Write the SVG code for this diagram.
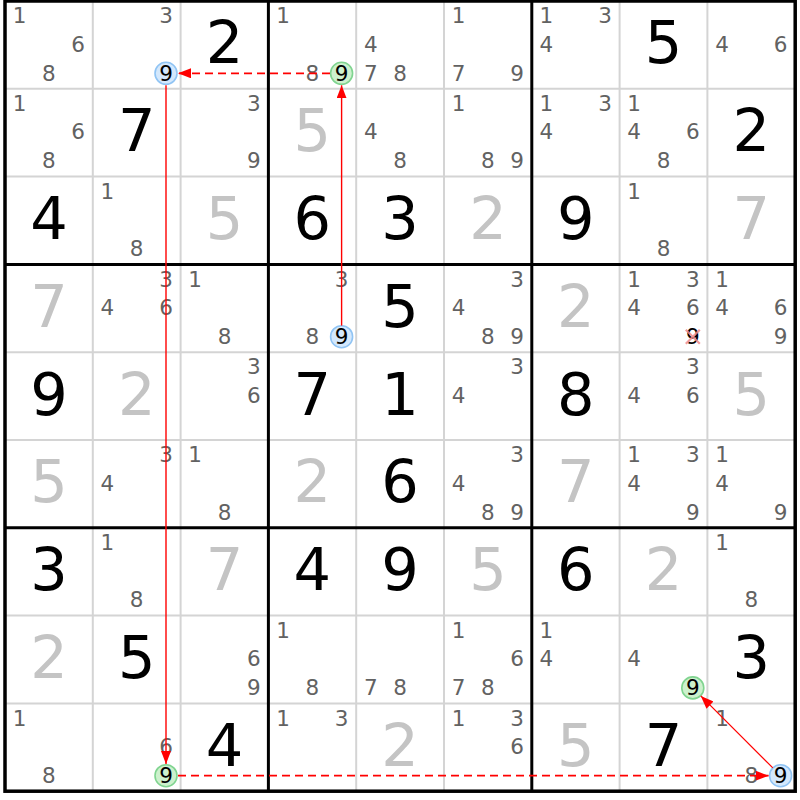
<svg xmlns="http://www.w3.org/2000/svg" width="800" height="800" viewBox="0 0 800 800">
<style>
text{font-family:"DejaVu Sans","Liberation Sans",sans-serif;text-anchor:middle}
.c{font-size:21.5px;fill:#626262}
.k{font-size:21.5px;fill:#000}
.g{font-size:59px;fill:#000}
.s{font-size:59px;fill:#c4c4c4}
.thin{stroke:#d4d4d4;stroke-width:2}
.thick{stroke:#000;stroke-width:3}
.hb{fill:#d4e8fc;stroke:#90c4f4;stroke-width:1.6}
.hg{fill:#cdf1cd;stroke:#80d490;stroke-width:1.6}
.x{stroke:#f08a8a;stroke-width:2.2;opacity:0.85}
.lk{stroke:#ff0000;fill:none}
.dash{stroke-width:1.8;stroke-dasharray:8 5}
</style>
<defs>
<marker id="ah" viewBox="0 0 13 10" refX="13" refY="5" markerWidth="13" markerHeight="10" markerUnits="userSpaceOnUse" orient="auto">
<path d="M0,0 L13,5 L0,10 z" fill="#ff0000"/>
</marker>
</defs>
<rect x="0" y="0" width="800" height="800" fill="#fff"/>
<g id="grid">
<g class="thin">
<line x1="92.8" y1="1" x2="92.8" y2="791.2"/><line x1="180.6" y1="1" x2="180.6" y2="791.2"/>
<line x1="356.2" y1="1" x2="356.2" y2="791.2"/><line x1="444" y1="1" x2="444" y2="791.2"/>
<line x1="619.6" y1="1" x2="619.6" y2="791.2"/><line x1="707.4" y1="1" x2="707.4" y2="791.2"/>
<line x1="5" y1="88.8" x2="795.2" y2="88.8"/><line x1="5" y1="176.6" x2="795.2" y2="176.6"/>
<line x1="5" y1="352.2" x2="795.2" y2="352.2"/><line x1="5" y1="440" x2="795.2" y2="440"/>
<line x1="5" y1="615.6" x2="795.2" y2="615.6"/><line x1="5" y1="703.4" x2="795.2" y2="703.4"/>
</g>
<g class="thick">
<line x1="268.4" y1="1" x2="268.4" y2="791.2"/><line x1="531.8" y1="1" x2="531.8" y2="791.2"/>
<line x1="5" y1="264.4" x2="795.2" y2="264.4"/><line x1="5" y1="527.8" x2="795.2" y2="527.8"/>
<rect x="5" y="1" width="790.2" height="790.2" fill="none" stroke-width="3.5"/>
</g>
</g>
<g id="cells">
<!-- row 0 -->
<g id="r0c0" transform="translate(5,1)"><text class="c" x="14.6" y="22.3">1</text><text class="c" x="73.2" y="50.5">6</text><text class="c" x="43.9" y="79.5">8</text></g>
<g id="r0c1" transform="translate(92.8,1)"><text class="c" x="73.2" y="22.3">3</text><circle class="hb" cx="73.2" cy="72.3" r="11"/><text class="k" x="73.2" y="79.5">9</text></g>
<g id="r0c2" transform="translate(180.6,1)"><text class="g" x="43.9" y="62.4">2</text></g>
<g id="r0c3" transform="translate(268.4,1)"><text class="c" x="14.6" y="22.3">1</text><text class="c" x="43.9" y="79.5">8</text><circle class="hg" cx="73.2" cy="72.3" r="11"/><text class="k" x="73.2" y="79.5">9</text></g>
<g id="r0c4" transform="translate(356.2,1)"><text class="c" x="14.6" y="50.5">4</text><text class="c" x="14.6" y="79.5">7</text><text class="c" x="43.9" y="79.5">8</text></g>
<g id="r0c5" transform="translate(444,1)"><text class="c" x="14.6" y="22.3">1</text><text class="c" x="14.6" y="79.5">7</text><text class="c" x="73.2" y="79.5">9</text></g>
<g id="r0c6" transform="translate(531.8,1)"><text class="c" x="14.6" y="22.3">1</text><text class="c" x="73.2" y="22.3">3</text><text class="c" x="14.6" y="50.5">4</text></g>
<g id="r0c7" transform="translate(619.6,1)"><text class="g" x="43.9" y="62.4">5</text></g>
<g id="r0c8" transform="translate(707.4,1)"><text class="c" x="14.6" y="50.5">4</text><text class="c" x="73.2" y="50.5">6</text></g>
<!-- row 1 -->
<g id="r1c0" transform="translate(5,88.8)"><text class="c" x="14.6" y="22.3">1</text><text class="c" x="73.2" y="50.5">6</text><text class="c" x="43.9" y="79.5">8</text></g>
<g id="r1c1" transform="translate(92.8,88.8)"><text class="g" x="43.9" y="62.4">7</text></g>
<g id="r1c2" transform="translate(180.6,88.8)"><text class="c" x="73.2" y="22.3">3</text><text class="c" x="73.2" y="79.5">9</text></g>
<g id="r1c3" transform="translate(268.4,88.8)"><text class="s" x="43.9" y="62.4">5</text></g>
<g id="r1c4" transform="translate(356.2,88.8)"><text class="c" x="14.6" y="50.5">4</text><text class="c" x="43.9" y="79.5">8</text></g>
<g id="r1c5" transform="translate(444,88.8)"><text class="c" x="14.6" y="22.3">1</text><text class="c" x="43.9" y="79.5">8</text><text class="c" x="73.2" y="79.5">9</text></g>
<g id="r1c6" transform="translate(531.8,88.8)"><text class="c" x="14.6" y="22.3">1</text><text class="c" x="73.2" y="22.3">3</text><text class="c" x="14.6" y="50.5">4</text></g>
<g id="r1c7" transform="translate(619.6,88.8)"><text class="c" x="14.6" y="22.3">1</text><text class="c" x="14.6" y="50.5">4</text><text class="c" x="73.2" y="50.5">6</text><text class="c" x="43.9" y="79.5">8</text></g>
<g id="r1c8" transform="translate(707.4,88.8)"><text class="g" x="43.9" y="62.4">2</text></g>
<!-- row 2 -->
<g id="r2c0" transform="translate(5,176.6)"><text class="g" x="43.9" y="62.4">4</text></g>
<g id="r2c1" transform="translate(92.8,176.6)"><text class="c" x="14.6" y="22.3">1</text><text class="c" x="43.9" y="79.5">8</text></g>
<g id="r2c2" transform="translate(180.6,176.6)"><text class="s" x="43.9" y="62.4">5</text></g>
<g id="r2c3" transform="translate(268.4,176.6)"><text class="g" x="43.9" y="62.4">6</text></g>
<g id="r2c4" transform="translate(356.2,176.6)"><text class="g" x="43.9" y="62.4">3</text></g>
<g id="r2c5" transform="translate(444,176.6)"><text class="s" x="43.9" y="62.4">2</text></g>
<g id="r2c6" transform="translate(531.8,176.6)"><text class="g" x="43.9" y="62.4">9</text></g>
<g id="r2c7" transform="translate(619.6,176.6)"><text class="c" x="14.6" y="22.3">1</text><text class="c" x="43.9" y="79.5">8</text></g>
<g id="r2c8" transform="translate(707.4,176.6)"><text class="s" x="43.9" y="62.4">7</text></g>
<!-- row 3 -->
<g id="r3c0" transform="translate(5,264.4)"><text class="s" x="43.9" y="62.4">7</text></g>
<g id="r3c1" transform="translate(92.8,264.4)"><text class="c" x="73.2" y="22.3">3</text><text class="c" x="14.6" y="50.5">4</text><text class="c" x="73.2" y="50.5">6</text></g>
<g id="r3c2" transform="translate(180.6,264.4)"><text class="c" x="14.6" y="22.3">1</text><text class="c" x="43.9" y="79.5">8</text></g>
<g id="r3c3" transform="translate(268.4,264.4)"><text class="c" x="73.2" y="22.3">3</text><text class="c" x="43.9" y="79.5">8</text><circle class="hb" cx="73.2" cy="72.3" r="11"/><text class="k" x="73.2" y="79.5">9</text></g>
<g id="r3c4" transform="translate(356.2,264.4)"><text class="g" x="43.9" y="62.4">5</text></g>
<g id="r3c5" transform="translate(444,264.4)"><text class="c" x="73.2" y="22.3">3</text><text class="c" x="14.6" y="50.5">4</text><text class="c" x="43.9" y="79.5">8</text><text class="c" x="73.2" y="79.5">9</text></g>
<g id="r3c6" transform="translate(531.8,264.4)"><text class="s" x="43.9" y="62.4">2</text></g>
<g id="r3c7" transform="translate(619.6,264.4)"><text class="c" x="14.6" y="22.3">1</text><text class="c" x="73.2" y="22.3">3</text><text class="c" x="14.6" y="50.5">4</text><text class="c" x="73.2" y="50.5">6</text><text class="k" x="73.2" y="79.5">9</text><path class="x" d="M66.2,65.3 L80.2,79.3 M80.2,65.3 L66.2,79.3"/></g>
<g id="r3c8" transform="translate(707.4,264.4)"><text class="c" x="14.6" y="22.3">1</text><text class="c" x="14.6" y="50.5">4</text><text class="c" x="73.2" y="50.5">6</text><text class="c" x="73.2" y="79.5">9</text></g>
<!-- row 4 -->
<g id="r4c0" transform="translate(5,352.2)"><text class="g" x="43.9" y="62.4">9</text></g>
<g id="r4c1" transform="translate(92.8,352.2)"><text class="s" x="43.9" y="62.4">2</text></g>
<g id="r4c2" transform="translate(180.6,352.2)"><text class="c" x="73.2" y="22.3">3</text><text class="c" x="73.2" y="50.5">6</text></g>
<g id="r4c3" transform="translate(268.4,352.2)"><text class="g" x="43.9" y="62.4">7</text></g>
<g id="r4c4" transform="translate(356.2,352.2)"><text class="g" x="43.9" y="62.4">1</text></g>
<g id="r4c5" transform="translate(444,352.2)"><text class="c" x="73.2" y="22.3">3</text><text class="c" x="14.6" y="50.5">4</text></g>
<g id="r4c6" transform="translate(531.8,352.2)"><text class="g" x="43.9" y="62.4">8</text></g>
<g id="r4c7" transform="translate(619.6,352.2)"><text class="c" x="73.2" y="22.3">3</text><text class="c" x="14.6" y="50.5">4</text><text class="c" x="73.2" y="50.5">6</text></g>
<g id="r4c8" transform="translate(707.4,352.2)"><text class="s" x="43.9" y="62.4">5</text></g>
<!-- row 5 -->
<g id="r5c0" transform="translate(5,440)"><text class="s" x="43.9" y="62.4">5</text></g>
<g id="r5c1" transform="translate(92.8,440)"><text class="c" x="73.2" y="22.3">3</text><text class="c" x="14.6" y="50.5">4</text></g>
<g id="r5c2" transform="translate(180.6,440)"><text class="c" x="14.6" y="22.3">1</text><text class="c" x="43.9" y="79.5">8</text></g>
<g id="r5c3" transform="translate(268.4,440)"><text class="s" x="43.9" y="62.4">2</text></g>
<g id="r5c4" transform="translate(356.2,440)"><text class="g" x="43.9" y="62.4">6</text></g>
<g id="r5c5" transform="translate(444,440)"><text class="c" x="73.2" y="22.3">3</text><text class="c" x="14.6" y="50.5">4</text><text class="c" x="43.9" y="79.5">8</text><text class="c" x="73.2" y="79.5">9</text></g>
<g id="r5c6" transform="translate(531.8,440)"><text class="s" x="43.9" y="62.4">7</text></g>
<g id="r5c7" transform="translate(619.6,440)"><text class="c" x="14.6" y="22.3">1</text><text class="c" x="73.2" y="22.3">3</text><text class="c" x="14.6" y="50.5">4</text><text class="c" x="73.2" y="79.5">9</text></g>
<g id="r5c8" transform="translate(707.4,440)"><text class="c" x="14.6" y="22.3">1</text><text class="c" x="14.6" y="50.5">4</text><text class="c" x="73.2" y="79.5">9</text></g>
<!-- row 6 -->
<g id="r6c0" transform="translate(5,527.8)"><text class="g" x="43.9" y="62.4">3</text></g>
<g id="r6c1" transform="translate(92.8,527.8)"><text class="c" x="14.6" y="22.3">1</text><text class="c" x="43.9" y="79.5">8</text></g>
<g id="r6c2" transform="translate(180.6,527.8)"><text class="s" x="43.9" y="62.4">7</text></g>
<g id="r6c3" transform="translate(268.4,527.8)"><text class="g" x="43.9" y="62.4">4</text></g>
<g id="r6c4" transform="translate(356.2,527.8)"><text class="g" x="43.9" y="62.4">9</text></g>
<g id="r6c5" transform="translate(444,527.8)"><text class="s" x="43.9" y="62.4">5</text></g>
<g id="r6c6" transform="translate(531.8,527.8)"><text class="g" x="43.9" y="62.4">6</text></g>
<g id="r6c7" transform="translate(619.6,527.8)"><text class="s" x="43.9" y="62.4">2</text></g>
<g id="r6c8" transform="translate(707.4,527.8)"><text class="c" x="14.6" y="22.3">1</text><text class="c" x="43.9" y="79.5">8</text></g>
<!-- row 7 -->
<g id="r7c0" transform="translate(5,615.6)"><text class="s" x="43.9" y="62.4">2</text></g>
<g id="r7c1" transform="translate(92.8,615.6)"><text class="g" x="43.9" y="62.4">5</text></g>
<g id="r7c2" transform="translate(180.6,615.6)"><text class="c" x="73.2" y="50.5">6</text><text class="c" x="73.2" y="79.5">9</text></g>
<g id="r7c3" transform="translate(268.4,615.6)"><text class="c" x="14.6" y="22.3">1</text><text class="c" x="43.9" y="79.5">8</text></g>
<g id="r7c4" transform="translate(356.2,615.6)"><text class="c" x="14.6" y="79.5">7</text><text class="c" x="43.9" y="79.5">8</text></g>
<g id="r7c5" transform="translate(444,615.6)"><text class="c" x="14.6" y="22.3">1</text><text class="c" x="73.2" y="50.5">6</text><text class="c" x="14.6" y="79.5">7</text><text class="c" x="43.9" y="79.5">8</text></g>
<g id="r7c6" transform="translate(531.8,615.6)"><text class="c" x="14.6" y="22.3">1</text><text class="c" x="14.6" y="50.5">4</text></g>
<g id="r7c7" transform="translate(619.6,615.6)"><text class="c" x="14.6" y="50.5">4</text><circle class="hg" cx="73.2" cy="72.3" r="11"/><text class="k" x="73.2" y="79.5">9</text></g>
<g id="r7c8" transform="translate(707.4,615.6)"><text class="g" x="43.9" y="62.4">3</text></g>
<!-- row 8 -->
<g id="r8c0" transform="translate(5,703.4)"><text class="c" x="14.6" y="22.3">1</text><text class="c" x="43.9" y="79.5">8</text></g>
<g id="r8c1" transform="translate(92.8,703.4)"><text class="c" x="73.2" y="50.5">6</text><circle class="hg" cx="73.2" cy="72.3" r="11"/><text class="k" x="73.2" y="79.5">9</text></g>
<g id="r8c2" transform="translate(180.6,703.4)"><text class="g" x="43.9" y="62.4">4</text></g>
<g id="r8c3" transform="translate(268.4,703.4)"><text class="c" x="14.6" y="22.3">1</text><text class="c" x="73.2" y="22.3">3</text></g>
<g id="r8c4" transform="translate(356.2,703.4)"><text class="s" x="43.9" y="62.4">2</text></g>
<g id="r8c5" transform="translate(444,703.4)"><text class="c" x="14.6" y="22.3">1</text><text class="c" x="73.2" y="22.3">3</text><text class="c" x="73.2" y="50.5">6</text></g>
<g id="r8c6" transform="translate(531.8,703.4)"><text class="s" x="43.9" y="62.4">5</text></g>
<g id="r8c7" transform="translate(619.6,703.4)"><text class="g" x="43.9" y="62.4">7</text></g>
<g id="r8c8" transform="translate(707.4,703.4)"><text class="c" x="14.6" y="22.3">1</text><text class="c" x="43.9" y="79.5">8</text><circle class="hb" cx="73.2" cy="72.3" r="11"/><text class="k" x="73.2" y="79.5">9</text></g>
</g>
<g id="connectors">
<line class="lk" x1="341.6" y1="325.6" x2="341.6" y2="85.3" stroke-width="1.4" marker-end="url(#ah)"/>
<line class="lk dash" x1="330" y1="73.3" x2="178" y2="73.3" marker-end="url(#ah)"/>
<line class="lk" x1="166" y1="85.3" x2="166" y2="764" stroke-width="1.4" marker-end="url(#ah)"/>
<line class="lk dash" x1="178" y1="775.7" x2="768.6" y2="775.7" marker-end="url(#ah)"/>
<line x1="772.8" y1="767.9" x2="700.8" y2="695.9" stroke="#ff0000" stroke-width="1.2" fill="none" marker-end="url(#ah)"/>
</g>
</svg>
